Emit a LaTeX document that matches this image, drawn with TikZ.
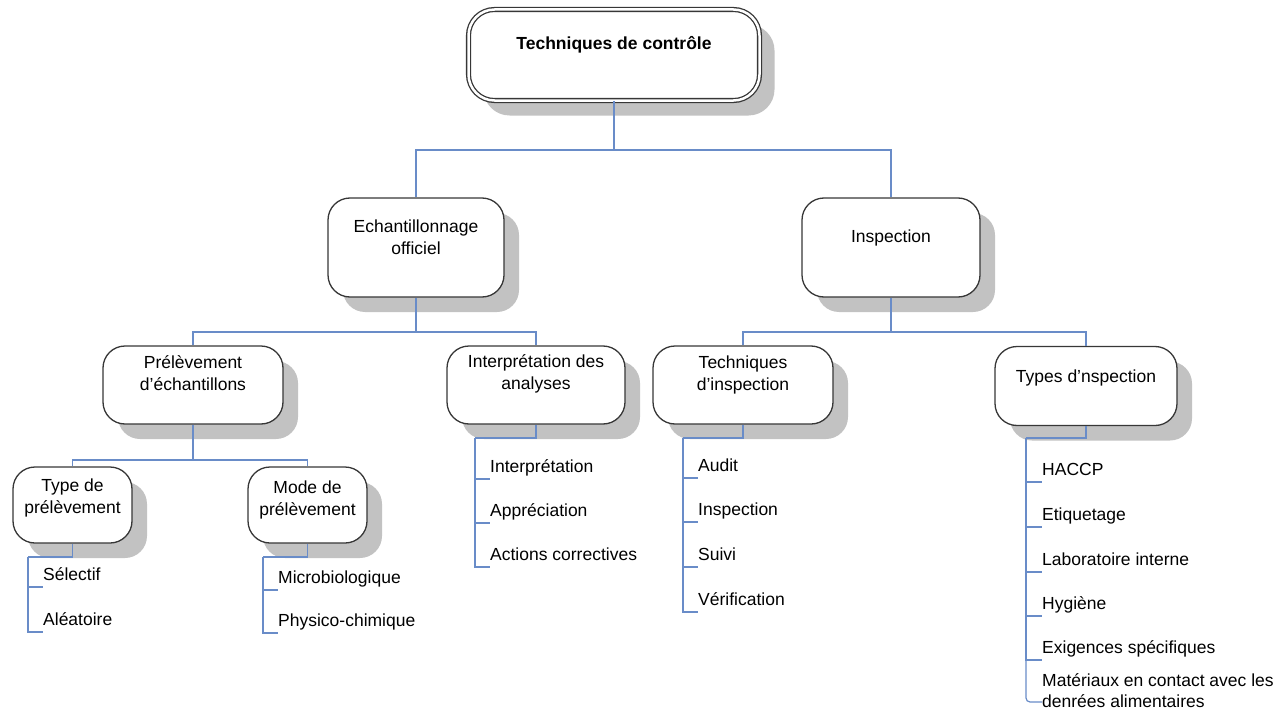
\documentclass[tikz,border=0pt]{standalone}
\usepackage{fontspec}
\setmainfont{Liberation Sans}
\usepackage{tikz}
\usetikzlibrary{shadows}
\definecolor{linkblue}{RGB}{105,140,200}
\definecolor{boxgray}{RGB}{55,55,55}
\tikzstyle{box}=[draw=boxgray,line width=1.3pt,rounded corners=22pt,fill=white,drop shadow={shadow xshift=15pt,shadow yshift=-15pt,opacity=1,fill=black!24}]
\tikzstyle{root box}=[box,double,double distance=2.5pt,rounded corners=26pt]
\tikzstyle{boxtext}=[align=center,inner sep=0pt,font=\fontsize{17.5}{22}\selectfont]
\tikzstyle{item}=[anchor=south west,inner sep=0pt,text depth=6pt,font=\fontsize{17.5}{21}\selectfont]
\tikzstyle{link}=[draw=linkblue,line width=1.2pt]

\begin{document}
\begin{tikzpicture}[x=1pt,y=-1pt]
    \useasboundingbox (0,0) rectangle (1283,709);
    \node[root box,minimum width=291pt,minimum height=91pt] (root) at (614,55) {};
    \node[boxtext,font=\fontsize{17.5}{22}\selectfont\bfseries] (root-t) at (614,45) {Techniques de contrôle};
    \foreach \name/\x/\y/\w/\h/\ty/\txt in {ech/416/247.5/176/99/237/{Echantillonnage\\officiel},
        insp/891/247.5/178/99/238/{Inspection},
        prel/193/385/180/78/373/{Prélèvement\\d’échantillons},
        interp/536/385/178/78/374/{Interprétation des\\analyses},
        techinsp/743/385/180/78/375/{Techniques\\d’inspection},
        types/1086/386/182/79/378/{Types d’nspection},
        typ/72.5/505/119/76/498/{Type de\\prélèvement},
        mode/307.5/505/119/76/500/{Mode de\\prélèvement}}
    {
        \node[box,minimum width=\w pt,minimum height=\h pt] (\name) at (\x,\y) {};
        \node[boxtext] (\name-t) at (\x,\ty) {\txt};
    }
    \coordinate (lvl1) at (614,150);
    \coordinate (lvl2a) at (416,332);
    \coordinate (lvl2b) at (891,332);
    \coordinate (lvl3) at (193,460);
    \draw[link] (root.south) -- (lvl1) -| (ech.north);
    \draw[link] (lvl1) -| (insp.north);
    \draw[link] (ech.south) -- (lvl2a) -| (prel.north);
    \draw[link] (lvl2a) -| (interp.north);
    \draw[link] (insp.south) -- (lvl2b) -| (techinsp.north);
    \draw[link] (lvl2b) -| (types.north);
    \draw[link] (prel.south) -- (lvl3) -| (typ.north);
    \draw[link] (lvl3) -| (mode.north);
    \foreach \name/\bx/\by in {typ/28/557,mode/263/557,interp/475/438,techinsp/683/438,types/1026/438}
    {
        \coordinate (\name-bar) at (\bx,\by);
        \draw[link] (\name.south) |- (\name-bar);
    }
    \foreach \src/\x/\y/\txt [count=\i] in {typ/43/587/Sélectif, typ/43/632/Aléatoire,
        mode/278/590/Microbiologique, mode/278/633/Physico-chimique,
        interp/490/479/Interprétation, interp/490/523/Appréciation, interp/490/567/Actions correctives,
        techinsp/698/478/Audit, techinsp/698/522/Inspection, techinsp/698/567/Suivi, techinsp/698/612/Vérification,
        types/1042/482/HACCP, types/1042/527/Etiquetage, types/1042/572/Laboratoire interne,
        types/1042/616/Hygiène, types/1042/660/Exigences spécifiques}
    {
        \node[item] (it\i) at (\x,\y) {\txt};
        \draw[link] (\src-bar) |- (it\i.south west);
    }
    \node[boxtext,align=left,anchor=west,font=\fontsize{17.5}{21}\selectfont] (mat) at (1042,691) {Matériaux en contact avec les\\denrées alimentaires};
    \draw[link,rounded corners=4pt] (types-bar) |- ([yshift=-11pt]mat.west);
\end{tikzpicture}
\end{document}
